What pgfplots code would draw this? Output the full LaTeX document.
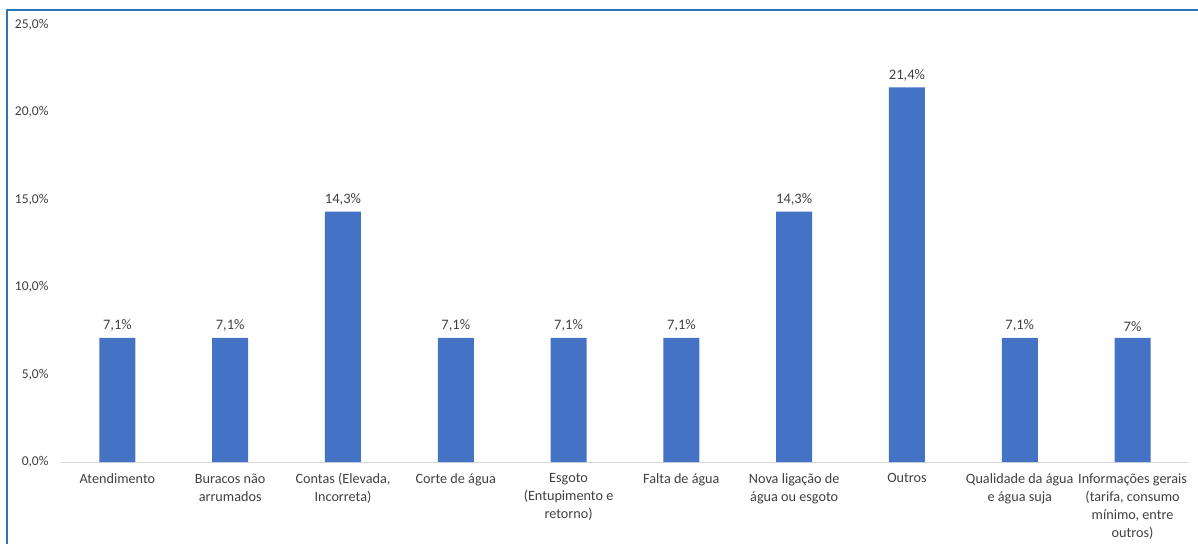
\documentclass[border=0pt]{standalone}
\usepackage{pgfplots}
\pgfplotsset{compat=1.18}
\usepackage{fontspec}
\setmainfont{Carlito}
\definecolor{barblue}{HTML}{4472C4}
\definecolor{frameblue}{HTML}{2E75B6}
\definecolor{txt}{HTML}{404040}
\definecolor{axgray}{HTML}{D9D9D9}
\begin{document}
\begin{tikzpicture}[x=1pt,y=1pt]
\path[use as bounding box] (0,0) rectangle (1198,544);
\draw[frameblue, line width=2pt] (7,0) -- (7,534) -- (1198,534);
\begin{axis}[
  at={(61pt,82pt)}, anchor=south west,
  scale only axis, width=1128pt, height=437.5pt,
  xmin=-0.5, xmax=9.5, ymin=0, ymax=25,
  axis lines=left,
  axis line style={-},
  x axis line style={draw=axgray, line width=1pt},
  y axis line style={draw=none},
  major tick length=0pt,
  ytick={0,5,10,15,20,25},
  yticklabels={{0,0\%},{5,0\%},{10,0\%},{15,0\%},{20,0\%},{25,0\%}},
  yticklabel style={font=\fontsize{13.5}{16}\selectfont, text=txt, anchor=east, xshift=-9pt},
  xtick={0,...,9},
  xticklabels={
    Atendimento,
    Buracos não\\arrumados,
    {Contas (Elevada,\\Incorreta)},
    Corte de água,
    Esgoto\\(Entupimento e\\retorno),
    Falta de água,
    Nova ligação de\\água ou esgoto,
    Outros,
    Qualidade da água\\e água suja,
    {Informações gerais\\(tarifa, consumo\\mínimo, entre\\outros)}
  },
  xticklabel style={font=\fontsize{14.2}{18}\selectfont, text=txt, align=center, anchor=north, yshift=-8pt},
  nodes near coords={\pgfplotspointmeta\%},
  point meta=explicit symbolic,
  nodes near coords style={font=\fontsize{14.5}{17}\selectfont, text=txt, anchor=south, yshift=3pt},
]
\addplot[ybar, bar width=36pt, fill=barblue, draw=none] table[meta=lab] {
x y lab
0 7.1 7,1
1 7.1 7,1
2 14.3 14,3
3 7.1 7,1
4 7.1 7,1
5 7.1 7,1
6 14.3 14,3
7 21.4 21,4
8 7.1 7,1
9 7.1 7
};
\end{axis}
\end{tikzpicture}
\end{document}
